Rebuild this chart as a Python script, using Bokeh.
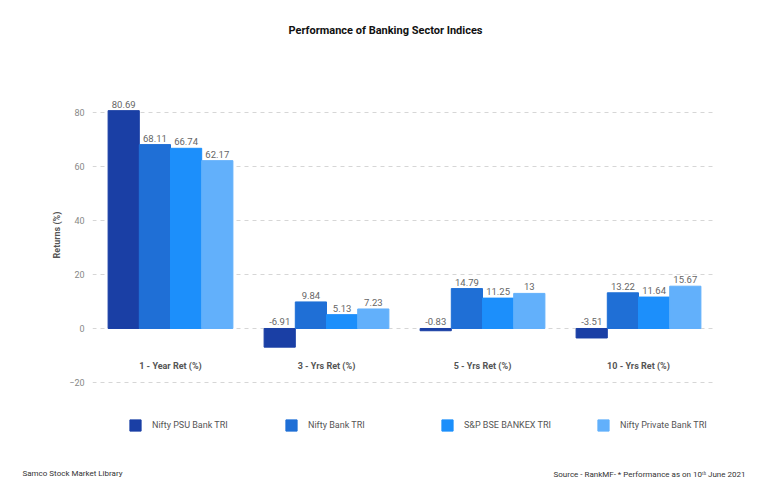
from bokeh.plotting import figure
from bokeh.models import (ColumnDataSource, FactorRange, Range1d, FixedTicker,
                          Legend, LegendItem, Title, Label)
from bokeh.transform import dodge
from bokeh.core.properties import value
from bokeh.embed import file_html
from bokeh.resources import INLINE

# ---- data ----
categories = ["1 - Year Ret (%)", "3 - Yrs Ret (%)", "5 - Yrs Ret (%)", "10 - Yrs Ret (%)"]
series_names = ["Nifty PSU Bank TRI", "Nifty Bank TRI", "S&P BSE BANKEX TRI", "Nifty Private Bank TRI"]
nifty_psu_bank = [80.69, -6.91, -0.83, -3.51]
nifty_bank = [68.11, 9.84, 14.79, 13.22]
bse_bankex = [66.74, 5.13, 11.25, 11.64]
nifty_private_bank = [62.17, 7.23, 13, 15.67]
y_ticks = [-20, 0, 20, 40, 60, 80]

title_text = "Performance of Banking Sector Indices"
y_title = "Returns (%)"
footer_left = "Samco Stock Market Library"
footer_right = "Source - RankMF- * Performance as on 10\u1d57\u02b0 June 2021"

colors = ["#1a3fa5", "#1f6fd6", "#1c8ffb", "#62b0fb"]
series_values = [nifty_psu_bank, nifty_bank, bse_bankex, nifty_private_bank]
keys = ["s0", "s1", "s2", "s3"]
offsets = [-0.3, -0.1, 0.1, 0.3]

FONT = "Roboto"

data = {"cat": categories}
for k, vals in zip(keys, series_values):
    data[k] = vals
    data[k + "_pos"] = [max(v, 0) for v in vals]
    data[k + "_lbl"] = [f"{v:g}" for v in vals]
source = ColumnDataSource(data)

# frame spans canvas y 14..455 (2.7 px per unit); ticks only at -20..80
p = figure(frame_width=624, frame_height=441, x_range=FactorRange(*categories),
           y_range=Range1d(-47.04, 116.3), output_backend="svg", toolbar_location=None,
           min_border_left=92, min_border_right=54, min_border_top=14,
           min_border_bottom=38)
p.outline_line_color = None
p.title.text = ""

renderers = []
for k, off, c in zip(keys, offsets, colors):
    r = p.vbar(x=dodge("cat", off, range=p.x_range), top=k, bottom=0, width=0.2,
               source=source, fill_color=c, line_color=c, line_width=1)
    renderers.append(r)
    p.text(x=dodge("cat", off, range=p.x_range), y=k + "_pos", text=k + "_lbl",
           source=source, text_align="center", text_baseline="bottom", y_offset=-3,
           text_font=value(FONT), text_font_size="9.5px", text_color="#666666")

p.yaxis.ticker = FixedTicker(ticks=y_ticks)
p.yaxis.axis_line_color = None
p.yaxis.major_tick_line_color = None
p.yaxis.major_tick_out = 0
p.yaxis.major_tick_in = 0
p.yaxis.minor_tick_line_color = None
p.yaxis.major_label_text_font = FONT
p.yaxis.major_label_text_font_size = "9px"
p.yaxis.major_label_text_color = "#888888"
p.yaxis.major_label_standoff = 8
p.yaxis.axis_label = y_title
p.yaxis.axis_label_text_font = FONT
p.yaxis.axis_label_text_font_size = "9px"
p.yaxis.axis_label_text_font_style = "bold"
p.yaxis.axis_label_text_color = "#555555"
p.yaxis.axis_label_standoff = 4

p.xaxis.fixed_location = 0
p.xaxis.axis_line_color = None
p.xaxis.major_tick_line_color = None
p.xaxis.major_tick_out = 0
p.xaxis.major_tick_in = 0
p.xaxis.minor_tick_line_color = None
p.xaxis.major_label_standoff = 33
p.xaxis.major_label_text_font = FONT
p.xaxis.major_label_text_font_size = "9px"
p.xaxis.major_label_text_font_style = "bold"
p.xaxis.major_label_text_color = "#555555"

p.xgrid.grid_line_color = None
p.ygrid.ticker = FixedTicker(ticks=y_ticks)
p.ygrid.grid_line_color = "#d6d6d6"
p.ygrid.grid_line_dash = "4 4"
p.ygrid.grid_line_width = 1

# title (inside the frame area, above the plotted values)
p.add_layout(Label(x=293, y=425, x_units="screen", y_units="screen", text=title_text,
                   text_align="center", text_baseline="middle", text_font=FONT,
                   text_font_size="11px", text_font_style="bold", text_color="#111111"))

# legend
legend = Legend(items=[LegendItem(label=n, renderers=[r]) for n, r in zip(series_names, renderers)],
                location=(36, 20), orientation="horizontal", padding=0, margin=0,
                spacing=11, glyph_width=14, glyph_height=14, label_standoff=10,
                label_width=121, label_height=20,
                label_text_font=FONT, label_text_font_size="9px",
                label_text_color="#555555", border_line_color=None,
                background_fill_alpha=0)
p.add_layout(legend, "center")

# footers
p.add_layout(Title(text=footer_left, align="left", offset=-70, standoff=22,
                   vertical_align="bottom", text_font=FONT,
                   text_font_size="8px", text_font_style="normal",
                   text_color="#333333"), "below")
p.add_layout(Title(text=footer_right, align="right", offset=-29, standoff=-38,
                   vertical_align="top", text_font=FONT,
                   text_font_size="8px", text_font_style="normal",
                   text_color="#333333"), "below")

open("out.html", "w").write(file_html(p, INLINE))
